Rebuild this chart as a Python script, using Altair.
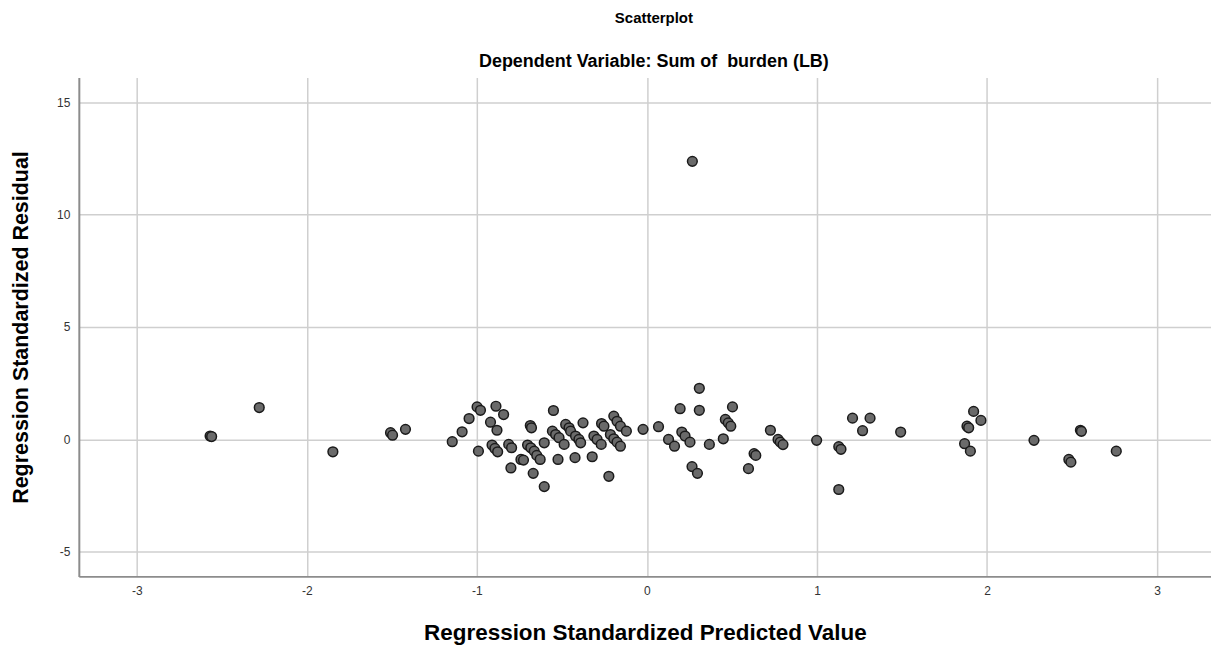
import altair as alt
import pandas as pd

# Regression standardized predicted values (x) and standardized residuals (y)
predicted = [
    -2.569, -2.560, -2.280, -1.847, -1.508, -1.496, -1.420, -1.145, -1.087, -1.046,
    -0.999, -0.979, -0.991, -0.920, -0.888, -0.843, -0.882, -0.911, -0.894, -0.878,
    -0.813, -0.796, -0.800, -0.741, -0.726, -0.702, -0.683, -0.686, -0.679, -0.663,
    -0.648, -0.628, -0.669, -0.604, -0.604, -0.550, -0.556, -0.537, -0.517, -0.487,
    -0.523, -0.478, -0.458, -0.449, -0.420, -0.400, -0.390, -0.376, -0.423, -0.322,
    -0.312, -0.293, -0.269, -0.267, -0.253, -0.224, -0.195, -0.176, -0.156, -0.121,
    -0.215, -0.195, -0.176, -0.156, -0.023, 0.068, 0.308, 0.195, 0.308, 0.503,
    0.127, 0.162, 0.205, 0.224, 0.253, 0.367, 0.461, 0.478, 0.493, 0.449,
    0.265, 0.297, 0.630, 0.640, 0.597, 0.726, 0.771, 0.784, 0.800, 0.998,
    1.128, 1.141, 1.128, 1.209, 1.312, 1.268, 1.492, 1.921, 1.964, 1.882,
    1.892, 1.868, 1.902, 2.276, 2.549, 2.555, 2.481, 2.493, 2.760, 0.267,
]
residual = [
    0.14, 0.12, 1.41, -0.56, 0.29, 0.18, 0.44, -0.11, 0.33, 0.92,
    1.44, 1.29, -0.53, 0.76, 1.47, 1.10, 0.40, -0.26, -0.41, -0.56,
    -0.23, -0.38, -1.28, -0.90, -0.93, -0.26, -0.38, 0.61, 0.51, -0.53,
    -0.72, -0.90, -1.52, -2.11, -0.16, 1.28, 0.36, 0.21, 0.07, -0.23,
    -0.90, 0.66, 0.51, 0.36, 0.14, -0.01, -0.16, 0.73, -0.82, -0.78,
    0.14, -0.01, -0.23, 0.70, 0.58, -1.65, 1.03, 0.80, 0.58, 0.36,
    0.21, 0.02, -0.13, -0.31, 0.44, 0.56, 2.27, 1.36, 1.29, 1.44,
    -0.01, -0.31, 0.32, 0.14, -0.13, -0.23, 0.88, 0.73, 0.58, 0.02,
    -1.22, -1.52, -0.64, -0.72, -1.31, 0.40, -0.01, -0.13, -0.24, -0.05,
    -0.33, -0.45, -2.24, 0.94, 0.94, 0.38, 0.32, 1.24, 0.84, 0.58,
    0.51, -0.20, -0.53, -0.05, 0.40, 0.35, -0.90, -1.02, -0.53, 12.38,
]

x_ticks = [-3, -2, -1, 0, 1, 2, 3]
y_ticks = [-5, 0, 5, 10, 15]

df = pd.DataFrame({"pred": predicted, "resid": residual})

FONT = "Liberation Sans"

chart = (
    alt.Chart(df)
    .mark_point(filled=True, shape="circle", size=95, fill="#6a6a6a",
                stroke="#1a1a1a", strokeWidth=1.5, opacity=1)
    .encode(
        x=alt.X("pred:Q",
                scale=alt.Scale(domain=[-3.341, 3.317], nice=False, zero=False),
                axis=alt.Axis(values=x_ticks, title="Regression Standardized Predicted Value",
                              labelExpr="'' + datum.value", ticks=False, labelPadding=9,
                              titlePadding=25, titleFontSize=22.5)),
        y=alt.Y("resid:Q",
                scale=alt.Scale(domain=[-6.11, 16.11], nice=False, zero=False),
                axis=alt.Axis(values=y_ticks, title="Regression Standardized Residual",
                              labelExpr="'' + datum.value", ticks=False, labelPadding=9,
                              titlePadding=24, titleFontSize=21.5)),
    )
    .properties(
        width=1135,
        height=500,
        title=alt.TitleParams(
            text="Scatterplot",
            subtitle="Dependent Variable: Sum of\u00a0 burden (LB)",
            anchor="middle",
            font=FONT, fontSize=15, fontWeight="bold", color="#000000",
            subtitleFont=FONT, subtitleFontSize=18, subtitleFontWeight="bold",
            subtitleColor="#000000", subtitlePadding=27, offset=7, dx=9,
        ),
        padding={"left": 71, "top": 69, "right": 0, "bottom": 68},
        autosize=alt.AutoSizeParams(type="none"),
    )
    .configure_view(stroke=None)
    .configure_axis(
        grid=True, gridColor="#cfcfcf", gridWidth=1.5,
        domainColor="#8c8c8c", domainWidth=2,
        labelFont=FONT, labelFontSize=12, labelColor="#333333",
        titleFont=FONT, titleFontWeight="bold", titleColor="#000000",
    )
)

chart.save("out.html", embed_options={"renderer": "svg", "actions": False})
